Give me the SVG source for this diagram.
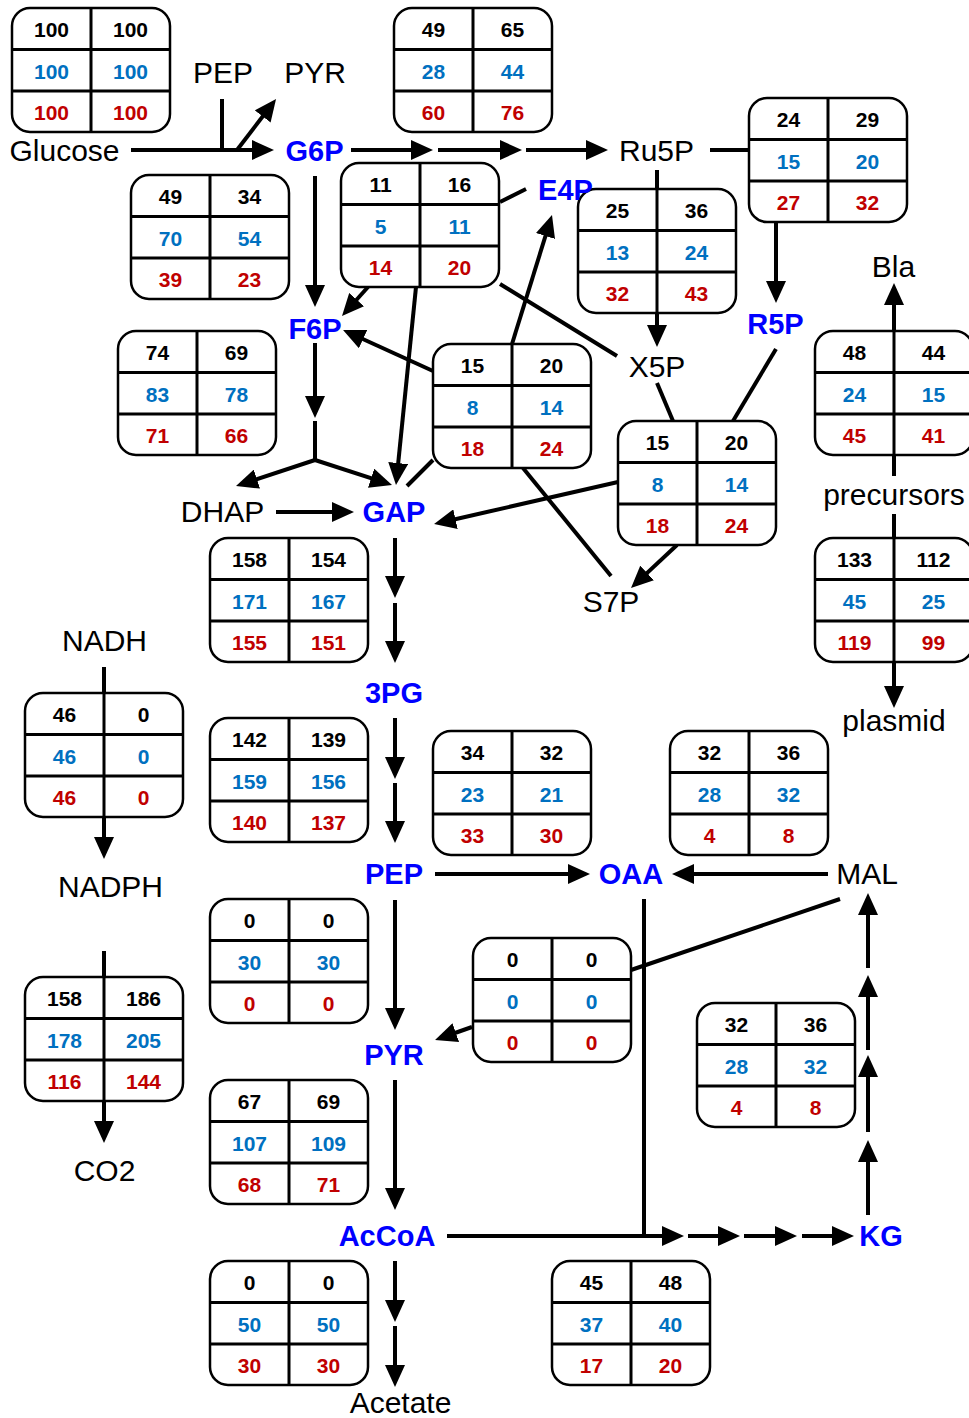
<svg xmlns="http://www.w3.org/2000/svg" width="969" height="1418" viewBox="0 0 969 1418">
<style>
.box{fill:#fff;stroke:#000;stroke-width:2.5}
.grid{fill:none;stroke:#000;stroke-width:3}
.num{font-family:"Liberation Sans",Arial,sans-serif;font-weight:bold;font-size:21px;text-anchor:middle}
.k{fill:#000}.b{fill:#0070C0}.r{fill:#C00000}
.lb{font-family:"Liberation Sans",Arial,sans-serif;font-size:30px;fill:#000;text-anchor:middle}
.lbb{font-family:"Liberation Sans",Arial,sans-serif;font-size:29px;font-weight:bold;fill:#0000FF;text-anchor:middle}
.c{fill:none;stroke:#000;stroke-width:4}
.a{marker-end:url(#ah)}
</style>
<defs>
<marker id="ah" viewBox="0 0 22 20" markerWidth="22" markerHeight="20" markerUnits="userSpaceOnUse" refX="16" refY="10" orient="auto">
<path d="M0,0 L22,10 L0,20 z" fill="#000"/>
</marker>
<g id="tbl"><rect class="box" x="0" y="0" width="158" height="124" rx="18"/><path class="grid" d="M79,0V124M0,41.5H158M0,83H158"/></g>
</defs>
<rect width="969" height="1418" fill="#fff"/>
<g id="connectors">
<path class="c a" d="M131,150H268"/>
<path class="c" d="M222,99V150"/>
<path class="c a" d="M237,150L272.4,103.8"/>
<path class="c a" d="M351,150H427"/>
<path class="c a" d="M438,150H516"/>
<path class="c a" d="M526,150H602"/>
<path class="c" d="M710,150H749"/>
<path class="c a" d="M776,222V297"/>
<path class="c a" d="M657,170V341"/>
<path class="c a" d="M315,176V301"/>
<path class="c a" d="M315,343V412"/>
<path class="c" d="M315,421V460"/>
<path class="c a" d="M315,460L241.7,484.1"/>
<path class="c a" d="M315,460L386.3,483.1"/>
<path class="c a" d="M276,512H348"/>
<path class="c a" d="M368,287L346,311.5"/>
<path class="c a" d="M416,287L396.6,479"/>
<path class="c" d="M500,202L526,189"/>
<path class="c" d="M500,284L617,356"/>
<path class="c a" d="M512,344L550.2,220.7"/>
<path class="c a" d="M433,371L348.5,332.5"/>
<path class="c" d="M433,460L407,486"/>
<path class="c" d="M523,468L611,576"/>
<path class="c" d="M657,383L673,421"/>
<path class="c" d="M776,349L733,421"/>
<path class="c a" d="M618,482L439.9,522.7"/>
<path class="c a" d="M677,545L635.4,583.9"/>
<path class="c a" d="M395,538V592"/>
<path class="c a" d="M395,603V657"/>
<path class="c a" d="M395,718V773"/>
<path class="c a" d="M395,783V837"/>
<path class="c a" d="M395,900V1024"/>
<path class="c a" d="M395,1080V1204"/>
<path class="c a" d="M395,1261V1316"/>
<path class="c a" d="M395,1326V1381"/>
<path class="c a" d="M104,667V853"/>
<path class="c a" d="M104,951V1137"/>
<path class="c a" d="M435,874H584"/>
<path class="c a" d="M828,874H678"/>
<path class="c" d="M644,899V1236"/>
<path class="c" d="M840,899L631,970"/>
<path class="c a" d="M472,1027L440.7,1038"/>
<path class="c a" d="M868,1215V1146"/>
<path class="c a" d="M868,1132V1061"/>
<path class="c a" d="M868,1050V981"/>
<path class="c a" d="M868,968V899"/>
<path class="c a" d="M447,1236H678"/>
<path class="c a" d="M688,1236H734"/>
<path class="c a" d="M744,1236H791"/>
<path class="c a" d="M802,1236H848"/>
<path class="c a" d="M894,476V289"/>
<path class="c a" d="M894,514V702"/>
</g>
<g id="t_glc" transform="translate(12,8)"><use href="#tbl"/><text class="num k" x="39.5" y="29">100</text><text class="num k" x="118.5" y="29">100</text><text class="num b" x="39.5" y="70.5">100</text><text class="num b" x="118.5" y="70.5">100</text><text class="num r" x="39.5" y="112">100</text><text class="num r" x="118.5" y="112">100</text></g>
<g id="t_pp" transform="translate(394,8)"><use href="#tbl"/><text class="num k" x="39.5" y="29">49</text><text class="num k" x="118.5" y="29">65</text><text class="num b" x="39.5" y="70.5">28</text><text class="num b" x="118.5" y="70.5">44</text><text class="num r" x="39.5" y="112">60</text><text class="num r" x="118.5" y="112">76</text></g>
<g id="t_ox" transform="translate(749,98)"><use href="#tbl"/><text class="num k" x="39.5" y="29">24</text><text class="num k" x="118.5" y="29">29</text><text class="num b" x="39.5" y="70.5">15</text><text class="num b" x="118.5" y="70.5">20</text><text class="num r" x="39.5" y="112">27</text><text class="num r" x="118.5" y="112">32</text></g>
<g id="t_pgi" transform="translate(131,175)"><use href="#tbl"/><text class="num k" x="39.5" y="29">49</text><text class="num k" x="118.5" y="29">34</text><text class="num b" x="39.5" y="70.5">70</text><text class="num b" x="118.5" y="70.5">54</text><text class="num r" x="39.5" y="112">39</text><text class="num r" x="118.5" y="112">23</text></g>
<g id="t_tk1" transform="translate(341,163)"><use href="#tbl"/><text class="num k" x="39.5" y="29">11</text><text class="num k" x="118.5" y="29">16</text><text class="num b" x="39.5" y="70.5">5</text><text class="num b" x="118.5" y="70.5">11</text><text class="num r" x="39.5" y="112">14</text><text class="num r" x="118.5" y="112">20</text></g>
<g id="t_rpe" transform="translate(578,189)"><use href="#tbl"/><text class="num k" x="39.5" y="29">25</text><text class="num k" x="118.5" y="29">36</text><text class="num b" x="39.5" y="70.5">13</text><text class="num b" x="118.5" y="70.5">24</text><text class="num r" x="39.5" y="112">32</text><text class="num r" x="118.5" y="112">43</text></g>
<g id="t_pfk" transform="translate(118,331)"><use href="#tbl"/><text class="num k" x="39.5" y="29">74</text><text class="num k" x="118.5" y="29">69</text><text class="num b" x="39.5" y="70.5">83</text><text class="num b" x="118.5" y="70.5">78</text><text class="num r" x="39.5" y="112">71</text><text class="num r" x="118.5" y="112">66</text></g>
<g id="t_ta" transform="translate(433,344)"><use href="#tbl"/><text class="num k" x="39.5" y="29">15</text><text class="num k" x="118.5" y="29">20</text><text class="num b" x="39.5" y="70.5">8</text><text class="num b" x="118.5" y="70.5">14</text><text class="num r" x="39.5" y="112">18</text><text class="num r" x="118.5" y="112">24</text></g>
<g id="t_tk2" transform="translate(618,421)"><use href="#tbl"/><text class="num k" x="39.5" y="29">15</text><text class="num k" x="118.5" y="29">20</text><text class="num b" x="39.5" y="70.5">8</text><text class="num b" x="118.5" y="70.5">14</text><text class="num r" x="39.5" y="112">18</text><text class="num r" x="118.5" y="112">24</text></g>
<g id="t_bla" transform="translate(815,331)"><use href="#tbl"/><text class="num k" x="39.5" y="29">48</text><text class="num k" x="118.5" y="29">44</text><text class="num b" x="39.5" y="70.5">24</text><text class="num b" x="118.5" y="70.5">15</text><text class="num r" x="39.5" y="112">45</text><text class="num r" x="118.5" y="112">41</text></g>
<g id="t_pls" transform="translate(815,538)"><use href="#tbl"/><text class="num k" x="39.5" y="29">133</text><text class="num k" x="118.5" y="29">112</text><text class="num b" x="39.5" y="70.5">45</text><text class="num b" x="118.5" y="70.5">25</text><text class="num r" x="39.5" y="112">119</text><text class="num r" x="118.5" y="112">99</text></g>
<g id="t_gap" transform="translate(210,538)"><use href="#tbl"/><text class="num k" x="39.5" y="29">158</text><text class="num k" x="118.5" y="29">154</text><text class="num b" x="39.5" y="70.5">171</text><text class="num b" x="118.5" y="70.5">167</text><text class="num r" x="39.5" y="112">155</text><text class="num r" x="118.5" y="112">151</text></g>
<g id="t_nadh" transform="translate(25,693)"><use href="#tbl"/><text class="num k" x="39.5" y="29">46</text><text class="num k" x="118.5" y="29">0</text><text class="num b" x="39.5" y="70.5">46</text><text class="num b" x="118.5" y="70.5">0</text><text class="num r" x="39.5" y="112">46</text><text class="num r" x="118.5" y="112">0</text></g>
<g id="t_3pg" transform="translate(210,718)"><use href="#tbl"/><text class="num k" x="39.5" y="29">142</text><text class="num k" x="118.5" y="29">139</text><text class="num b" x="39.5" y="70.5">159</text><text class="num b" x="118.5" y="70.5">156</text><text class="num r" x="39.5" y="112">140</text><text class="num r" x="118.5" y="112">137</text></g>
<g id="t_ppc" transform="translate(433,731)"><use href="#tbl"/><text class="num k" x="39.5" y="29">34</text><text class="num k" x="118.5" y="29">32</text><text class="num b" x="39.5" y="70.5">23</text><text class="num b" x="118.5" y="70.5">21</text><text class="num r" x="39.5" y="112">33</text><text class="num r" x="118.5" y="112">30</text></g>
<g id="t_mdh" transform="translate(670,731)"><use href="#tbl"/><text class="num k" x="39.5" y="29">32</text><text class="num k" x="118.5" y="29">36</text><text class="num b" x="39.5" y="70.5">28</text><text class="num b" x="118.5" y="70.5">32</text><text class="num r" x="39.5" y="112">4</text><text class="num r" x="118.5" y="112">8</text></g>
<g id="t_pyk" transform="translate(210,899)"><use href="#tbl"/><text class="num k" x="39.5" y="29">0</text><text class="num k" x="118.5" y="29">0</text><text class="num b" x="39.5" y="70.5">30</text><text class="num b" x="118.5" y="70.5">30</text><text class="num r" x="39.5" y="112">0</text><text class="num r" x="118.5" y="112">0</text></g>
<g id="t_mae" transform="translate(473,938)"><use href="#tbl"/><text class="num k" x="39.5" y="29">0</text><text class="num k" x="118.5" y="29">0</text><text class="num b" x="39.5" y="70.5">0</text><text class="num b" x="118.5" y="70.5">0</text><text class="num r" x="39.5" y="112">0</text><text class="num r" x="118.5" y="112">0</text></g>
<g id="t_kg" transform="translate(697,1003)"><use href="#tbl"/><text class="num k" x="39.5" y="29">32</text><text class="num k" x="118.5" y="29">36</text><text class="num b" x="39.5" y="70.5">28</text><text class="num b" x="118.5" y="70.5">32</text><text class="num r" x="39.5" y="112">4</text><text class="num r" x="118.5" y="112">8</text></g>
<g id="t_co2" transform="translate(25,977)"><use href="#tbl"/><text class="num k" x="39.5" y="29">158</text><text class="num k" x="118.5" y="29">186</text><text class="num b" x="39.5" y="70.5">178</text><text class="num b" x="118.5" y="70.5">205</text><text class="num r" x="39.5" y="112">116</text><text class="num r" x="118.5" y="112">144</text></g>
<g id="t_pdh" transform="translate(210,1080)"><use href="#tbl"/><text class="num k" x="39.5" y="29">67</text><text class="num k" x="118.5" y="29">69</text><text class="num b" x="39.5" y="70.5">107</text><text class="num b" x="118.5" y="70.5">109</text><text class="num r" x="39.5" y="112">68</text><text class="num r" x="118.5" y="112">71</text></g>
<g id="t_ace" transform="translate(210,1261)"><use href="#tbl"/><text class="num k" x="39.5" y="29">0</text><text class="num k" x="118.5" y="29">0</text><text class="num b" x="39.5" y="70.5">50</text><text class="num b" x="118.5" y="70.5">50</text><text class="num r" x="39.5" y="112">30</text><text class="num r" x="118.5" y="112">30</text></g>
<g id="t_cs" transform="translate(552,1261)"><use href="#tbl"/><text class="num k" x="39.5" y="29">45</text><text class="num k" x="118.5" y="29">48</text><text class="num b" x="39.5" y="70.5">37</text><text class="num b" x="118.5" y="70.5">40</text><text class="num r" x="39.5" y="112">17</text><text class="num r" x="118.5" y="112">20</text></g>
<g id="n_glucose"><text class="lb" x="64.5" y="161">Glucose</text></g>
<g id="n_pep_top"><text class="lb" x="223" y="83">PEP</text></g>
<g id="n_pyr_top"><text class="lb" x="315" y="83">PYR</text></g>
<g id="n_g6p"><text class="lbb" x="314.5" y="161">G6P</text></g>
<g id="n_ru5p"><text class="lb" x="656.5" y="161">Ru5P</text></g>
<g id="n_e4p"><text class="lbb" x="565.5" y="200">E4P</text></g>
<g id="n_f6p"><text class="lbb" x="315" y="339">F6P</text></g>
<g id="n_r5p"><text class="lbb" x="775.5" y="334">R5P</text></g>
<g id="n_bla"><text class="lb" x="893.5" y="277">Bla</text></g>
<g id="n_x5p"><text class="lb" x="657" y="377">X5P</text></g>
<g id="n_dhap"><text class="lb" x="222.5" y="522">DHAP</text></g>
<g id="n_gap"><text class="lbb" x="394" y="522">GAP</text></g>
<g id="n_precursors"><text class="lb" x="894" y="505">precursors</text></g>
<g id="n_s7p"><text class="lb" x="611" y="612">S7P</text></g>
<g id="n_nadh"><text class="lb" x="104.5" y="651">NADH</text></g>
<g id="n_3pg"><text class="lbb" x="394" y="703">3PG</text></g>
<g id="n_plasmid"><text class="lb" x="894" y="731">plasmid</text></g>
<g id="n_pep"><text class="lbb" x="394" y="884">PEP</text></g>
<g id="n_oaa"><text class="lbb" x="631" y="884">OAA</text></g>
<g id="n_mal"><text class="lb" x="867" y="884">MAL</text></g>
<g id="n_nadph"><text class="lb" x="110.5" y="897">NADPH</text></g>
<g id="n_pyr"><text class="lbb" x="394" y="1065">PYR</text></g>
<g id="n_co2"><text class="lb" x="104.5" y="1181">CO2</text></g>
<g id="n_accoa"><text class="lbb" x="387" y="1246">AcCoA</text></g>
<g id="n_kg"><text class="lbb" x="881" y="1246">KG</text></g>
<g id="n_acetate"><text class="lb" x="400.5" y="1413">Acetate</text></g>
</svg>
